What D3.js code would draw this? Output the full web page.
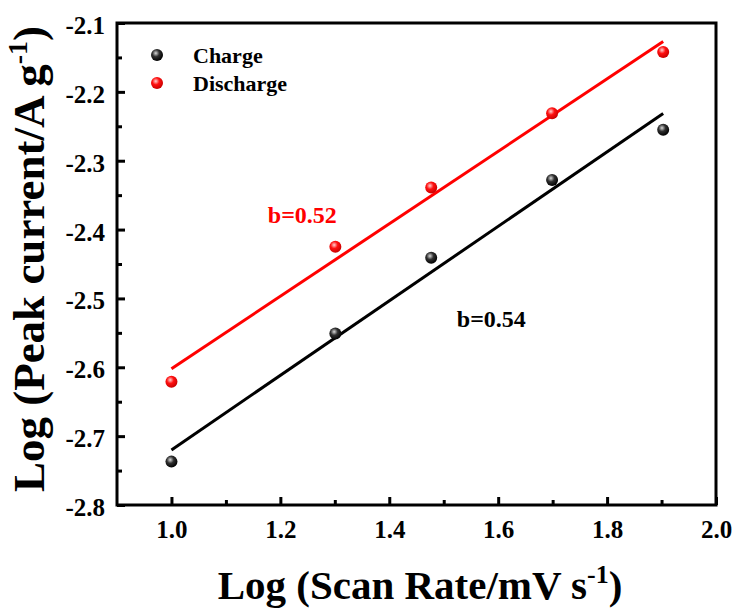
<!DOCTYPE html>
<html>
<head>
<meta charset="utf-8">
<script src="https://cdn.jsdelivr.net/npm/d3@7"></script>
<style>
  body { margin: 0; background: #fff; }
  svg text { font-family: "Times New Roman", "Liberation Serif", serif; font-weight: bold; }
</style>
</head>
<body>
<svg id="chart" width="737" height="610"></svg>
<script>
// log of scan rate (mV/s): 10, 20, 30, 50, 80
const scanRates = [1.0, 1.301, 1.477, 1.699, 1.903];
const charge = [-2.737, -2.551, -2.441, -2.328, -2.255];
const discharge = [-2.621, -2.425, -2.339, -2.231, -2.142];
const xTicks = [1.0, 1.2, 1.4, 1.6, 1.8, 2.0];
const yTicks = [-2.8, -2.7, -2.6, -2.5, -2.4, -2.3, -2.2, -2.1];
const slopes = ["b=0.54", "b=0.52"];

const svg = d3.select("#chart"),
  margins = {top: 23, right: 21, bottom: 105, left: 117},
  width = 737 - margins.left - margins.right,
  height = 610 - margins.top - margins.bottom;

const x = d3.scaleLinear().domain([0.9, 2.0]).range([0, width]);
const y = d3.scaleLinear().domain([-2.8, -2.1]).range([height, 0]);

const defs = svg.append("defs");
function ballGrad(id, light, mid, dark) {
  const g = defs.append("radialGradient").attr("id", id)
    .attr("cx", "40%").attr("cy", "35%").attr("r", "65%");
  g.append("stop").attr("offset", "0%").attr("stop-color", light);
  g.append("stop").attr("offset", "45%").attr("stop-color", mid);
  g.append("stop").attr("offset", "100%").attr("stop-color", dark);
}
ballGrad("ballBlack", "#d8d8d8", "#303030", "#000");
ballGrad("ballRed", "#ffd0d0", "#ff1010", "#c80000");

const g = svg.append("g").attr("transform", "translate(" + margins.left + "," + margins.top + ")");

// frame
g.append("rect").attr("width", width).attr("height", height)
  .attr("fill", "none").attr("stroke", "#000").attr("stroke-width", 3);

// axes (ticks inward)
const xAxis = g.append("g").attr("transform", "translate(0," + height + ")")
  .call(d3.axisBottom(x).tickValues(xTicks).tickSize(-8).tickPadding(15).tickFormat(d3.format(".1f")));
const xMinor = g.append("g").attr("transform", "translate(0," + height + ")")
  .call(d3.axisBottom(x).tickValues(d3.range(1.1, 2.0, 0.2)).tickSize(-5).tickFormat(""));
const yAxis = g.append("g")
  .call(d3.axisLeft(y).tickValues(yTicks).tickSize(-8).tickPadding(12).tickFormat(d3.format(".1f")));
const yMinor = g.append("g")
  .call(d3.axisLeft(y).tickValues(d3.range(-2.75, -2.1, 0.1)).tickSize(-5).tickFormat(""));

[xAxis, xMinor, yAxis, yMinor].forEach(a => {
  a.select(".domain").remove();
  a.selectAll("line").attr("stroke", "#000").attr("stroke-width", 3);
});
xAxis.selectAll("text").attr("font-size", 25).attr("fill", "#000").attr("dy", "0.71em");
yAxis.selectAll("text").attr("font-size", 25).attr("fill", "#000").attr("dy", "0.42em")
  .text(d => d3.format(".1f")(d).replace("−", "-"));

// least squares fit
function fit(xs, ys) {
  const mx = d3.mean(xs), my = d3.mean(ys);
  const sxy = d3.sum(xs, (v, i) => (v - mx) * (ys[i] - my));
  const sxx = d3.sum(xs, v => (v - mx) * (v - mx));
  const k = sxy / sxx;
  return xs.map(v => [v, my + k * (v - mx)]);
}

const series = [
  {values: charge, color: "#000", grad: "url(#ballBlack)", name: "Charge"},
  {values: discharge, color: "#ff0000", grad: "url(#ballRed)", name: "Discharge"}
];

const line = d3.line().x(d => x(d[0])).y(d => y(d[1]));

series.forEach(s => {
  const f = fit(scanRates, s.values);
  g.append("path")
    .attr("d", line([f[0], f[f.length - 1]]))
    .attr("stroke", s.color).attr("stroke-width", 3).attr("fill", "none");
});

series.forEach(s => {
  g.append("g").selectAll("circle")
    .data(scanRates.map((v, i) => [v, s.values[i]]))
    .enter().append("circle")
      .attr("cx", d => x(d[0]))
      .attr("cy", d => y(d[1]))
      .attr("r", 6)
      .attr("fill", s.grad);
});

// slope labels
g.append("text").attr("x", x(1.524)).attr("y", y(-2.542)).attr("font-size", 24)
  .attr("fill", "#000").text(slopes[0]);
g.append("text").attr("x", x(1.177)).attr("y", y(-2.39)).attr("font-size", 24)
  .attr("fill", "#ff0000").text(slopes[1]);

// legend
const legend = g.append("g").attr("transform", "translate(40,32)");
series.forEach((s, i) => {
  const row = legend.append("g").attr("transform", "translate(0," + i * 28 + ")");
  row.append("circle").attr("r", 6).attr("fill", s.grad);
  row.append("text").attr("x", 36).attr("dy", "0.35em").attr("font-size", 22)
    .attr("fill", "#000").text(s.name);
});

// axis titles
const xt = svg.append("text").attr("x", 420).attr("y", 599)
  .attr("text-anchor", "middle").attr("font-size", 41).attr("fill", "#000");
xt.append("tspan").text("Log (Scan Rate/mV s");
xt.append("tspan").attr("dy", -16).attr("font-size", 26).text("-1");
xt.append("tspan").attr("dy", 16).text(")");

const yt = svg.append("text").attr("transform", "translate(44,259) rotate(-90)")
  .attr("text-anchor", "middle").attr("font-size", 45).attr("fill", "#000");
yt.append("tspan").text("Log (Peak current/A g");
yt.append("tspan").attr("dy", -17).attr("font-size", 28).text("-1");
yt.append("tspan").attr("dy", 17).text(")");
</script>
</body>
</html>
